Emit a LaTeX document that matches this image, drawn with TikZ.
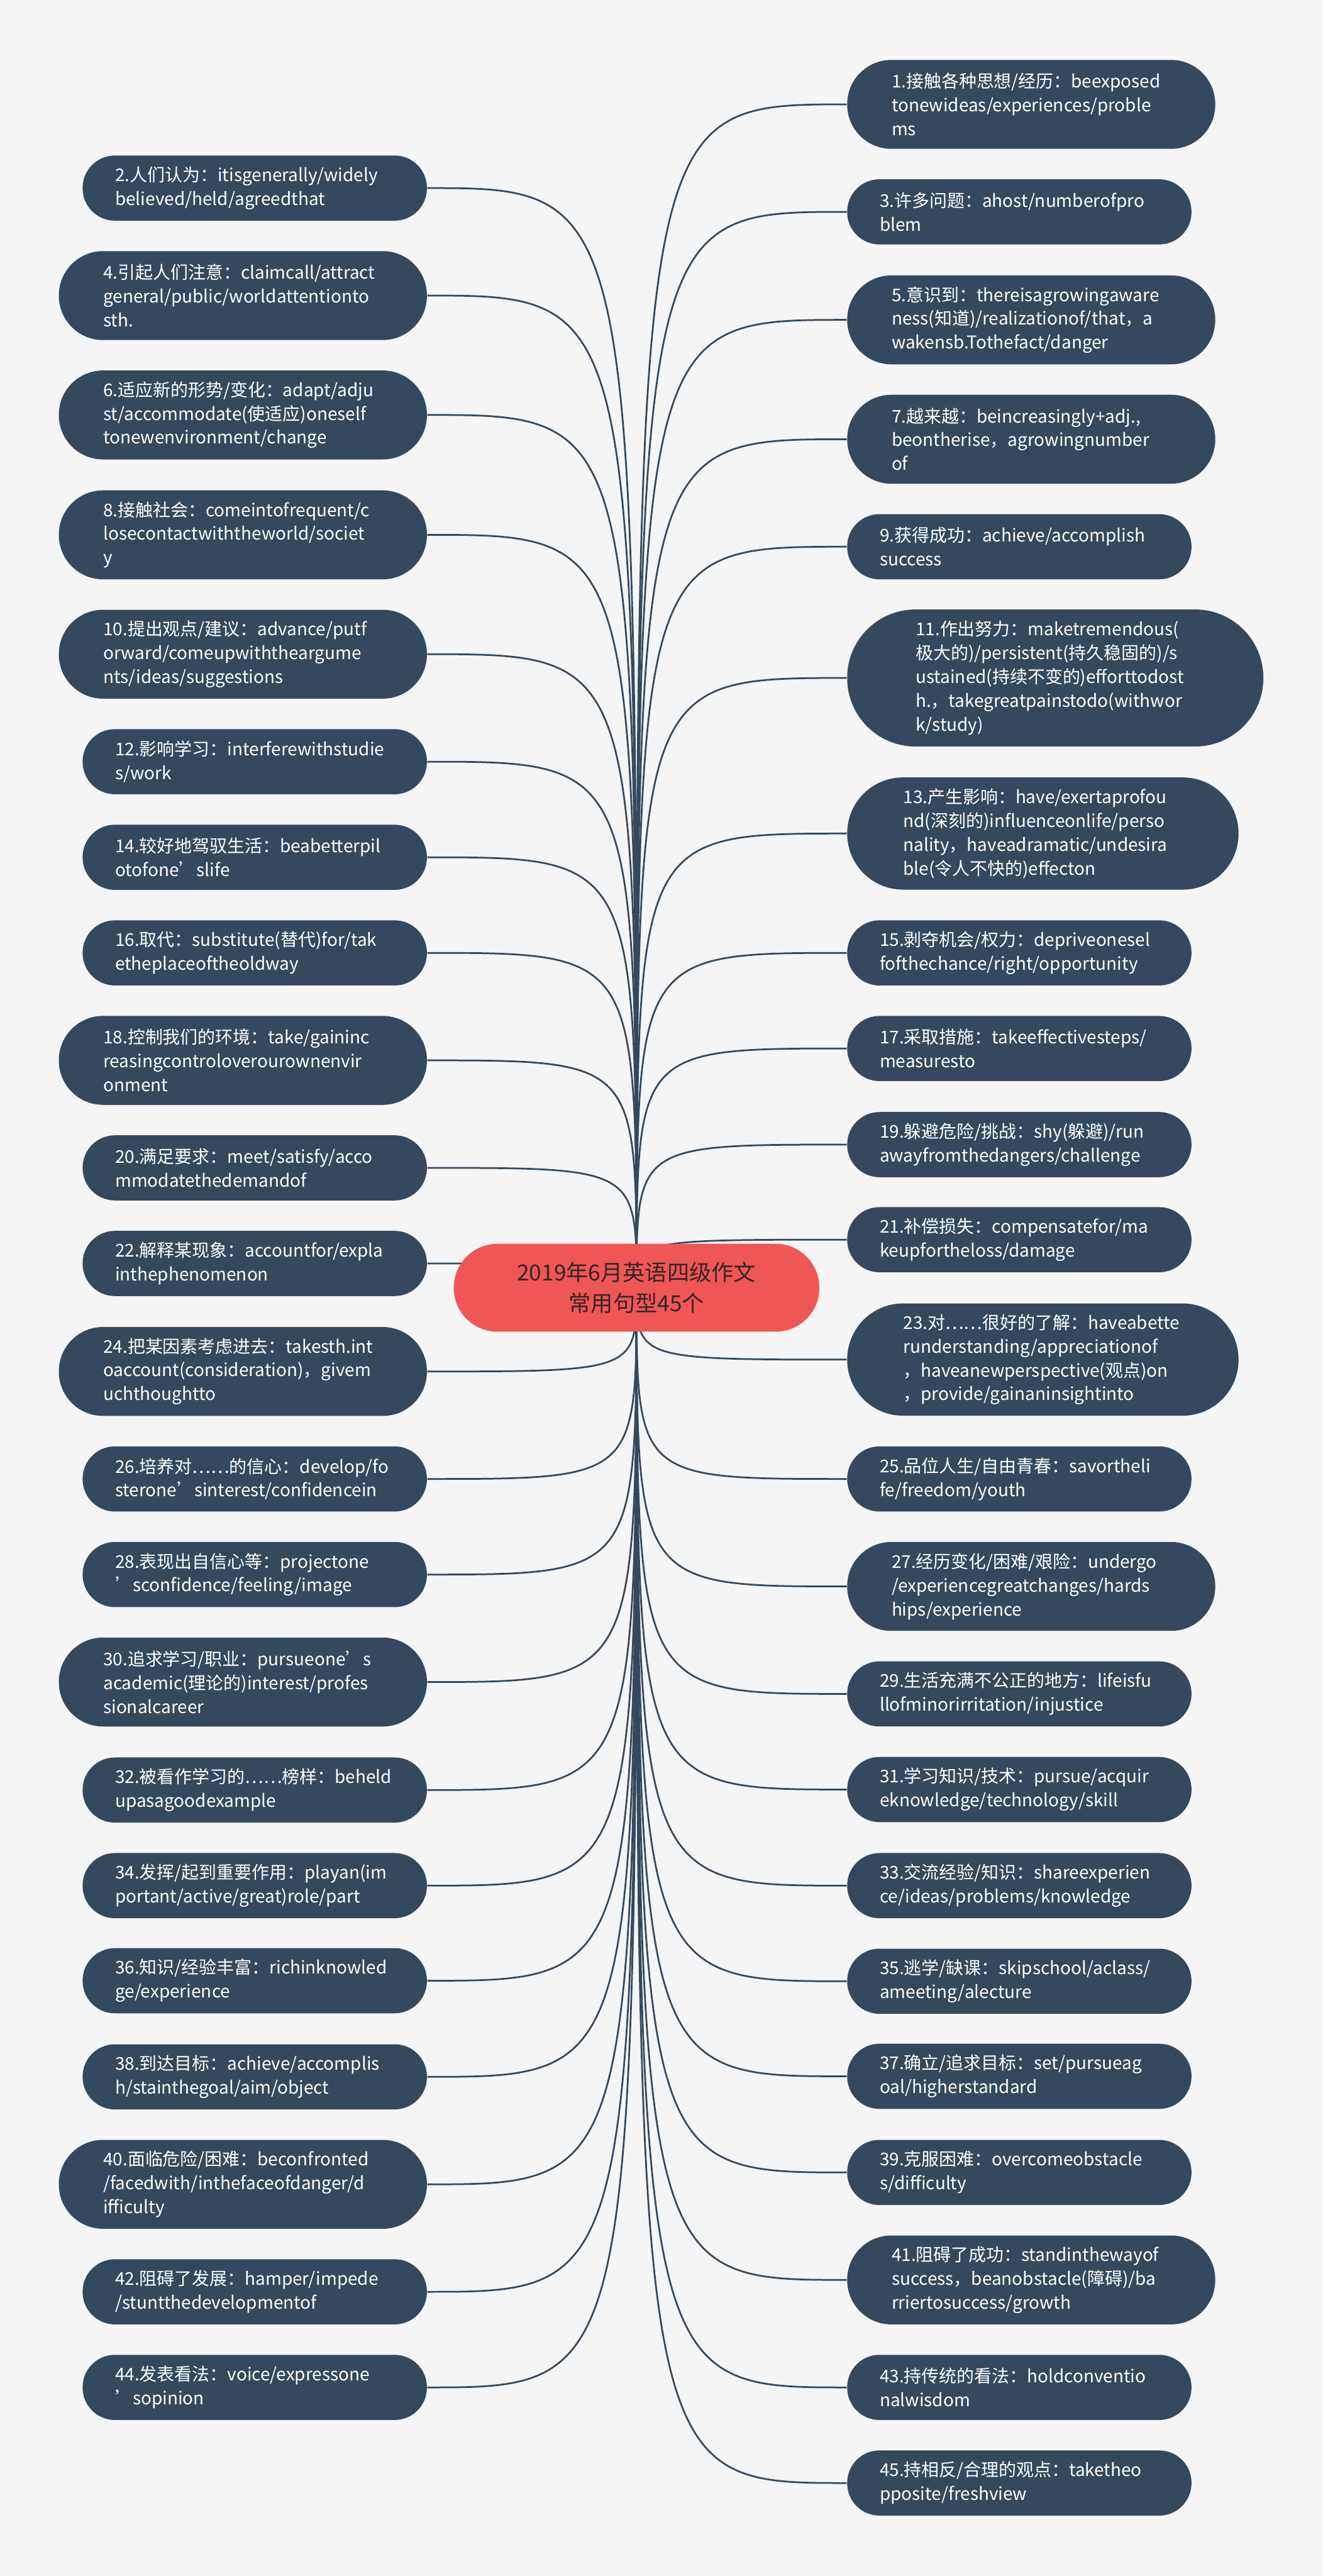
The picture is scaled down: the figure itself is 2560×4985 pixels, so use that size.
\documentclass[tikz,border=0pt]{standalone}
\usepackage{fontspec}
\setmainfont{Noto Sans CJK SC}
\usetikzlibrary{backgrounds}
\definecolor{nb}{HTML}{34495E}
\definecolor{bg}{HTML}{F5F5F5}
\definecolor{rootred}{HTML}{EF5656}
\definecolor{roottext}{HTML}{332626}
\begin{document}
\begin{tikzpicture}[x=0.01cm,y=-0.01cm,
 box/.style={rectangle, fill=nb, text=white, inner xsep=0pt, inner ysep=0pt, text width=5.4cm, align=left, font=\fontsize{9.67pt}{13.09pt}\selectfont},
 b2/.style={box, minimum height=1.26cm, minimum width=6.66cm, rounded corners=0.625cm},
 b3/.style={box, minimum height=1.72cm, minimum width=7.12cm, rounded corners=0.855cm},
 b4/.style={box, minimum height=2.17cm, minimum width=7.57cm, rounded corners=1.08cm},
 b5/.style={box, minimum height=2.65cm, minimum width=8.05cm, rounded corners=1.32cm},
 L/.style={anchor=east}, R/.style={anchor=west},
 rootbox/.style={rectangle, fill=rootred, minimum width=7.07cm, minimum height=1.7cm, rounded corners=0.845cm, align=center, text=roottext, font=\fontsize{12.2pt}{16.8pt}\selectfont},
 link/.style={draw=nb, line width=0.95pt}]
\useasboundingbox (0,0) rectangle (2560,4985);
% root
\node[rootbox] (root) at (1232,2492) {2019年6月英语四级作文\\常用句型45个};
% left column
\node[b2,L] (n2)  at (827,364) {2.人们认为：itisgenerally/widely\\believed/held/agreedthat};
\node[b3,L] (n4)  at (827,572) {4.引起人们注意：claimcall/attract\\general/public/worldattentionto\\sth.};
\node[b3,L] (n6)  at (827,803) {6.适应新的形势/变化：adapt/adju\\st/accommodate(使适应)oneself\\tonewenvironment/change};
\node[b3,L] (n8)  at (827,1035) {8.接触社会：comeintofrequent/c\\losecontactwiththeworld/societ\\y};
\node[b3,L] (n10) at (827,1266) {10.提出观点/建议：advance/putf\\orward/comeupwiththeargume\\nts/ideas/suggestions};
\node[b2,L] (n12) at (827,1474) {12.影响学习：interferewithstudie\\s/work};
\node[b2,L] (n14) at (827,1659) {14.较好地驾驭生活：beabetterpil\\otofone’slife};
\node[b2,L] (n16) at (827,1844) {16.取代：substitute(替代)for/tak\\etheplaceoftheoldway};
\node[b3,L] (n18) at (827,2052) {18.控制我们的环境：take/gaininc\\reasingcontroloverourownenvir\\onment};
\node[b2,L] (n20) at (827,2260) {20.满足要求：meet/satisfy/acco\\mmodatethedemandof};
\node[b2,L] (n22) at (827,2445) {22.解释某现象：accountfor/expla\\inthephenomenon};
\node[b3,L] (n24) at (827,2654) {24.把某因素考虑进去：takesth.int\\oaccount(consideration)，givem\\uchthoughtto};
\node[b2,L] (n26) at (827,2862) {26.培养对……的信心：develop/fo\\sterone’sinterest/confidencein};
\node[b2,L] (n28) at (827,3047) {28.表现出自信心等：projectone\\’sconfidence/feeling/image};
\node[b3,L] (n30) at (827,3255) {30.追求学习/职业：pursueone’s\\academic(理论的)interest/profes\\sionalcareer};
\node[b2,L] (n32) at (827,3464) {32.被看作学习的……榜样：beheld\\upasagoodexample};
\node[b2,L] (n34) at (827,3649) {34.发挥/起到重要作用：playan(im\\portant/active/great)role/part};
\node[b2,L] (n36) at (827,3833) {36.知识/经验丰富：richinknowled\\ge/experience};
\node[b2,L] (n38) at (827,4019) {38.到达目标：achieve/accomplis\\h/stainthegoal/aim/object};
\node[b3,L] (n40) at (827,4227) {40.面临危险/困难：beconfronted\\/facedwith/inthefaceofdanger/d\\ifficulty};
\node[b2,L] (n42) at (827,4435) {42.阻碍了发展：hamper/impede\\/stuntthedevelopmentof};
\node[b2,L] (n44) at (827,4620) {44.发表看法：voice/expressone\\’sopinion};
% right column
\node[b3,R] (n1)  at (1639,202) {1.接触各种思想/经历：beexposed\\tonewideas/experiences/proble\\ms};
\node[b2,R] (n3)  at (1639,410) {3.许多问题：ahost/numberofpro\\blem};
\node[b3,R] (n5)  at (1639,619) {5.意识到：thereisagrowingaware\\ness(知道)/realizationof/that，a\\wakensb.Tothefact/danger};
\node[b3,R] (n7)  at (1639,850) {7.越来越：beincreasingly+adj.,\\beontherise，agrowingnumber\\of};
\node[b2,R] (n9)  at (1639,1058) {9.获得成功：achieve/accomplish\\success};
\node[b5,R] (n11) at (1639,1312) {11.作出努力：maketremendous(\\极大的)/persistent(持久稳固的)/s\\ustained(持续不变的)efforttodost\\h.，takegreatpainstodo(withwor\\k/study)};
\node[b4,R] (n13) at (1639,1613) {13.产生影响：have/exertaprofou\\nd(深刻的)influenceonlife/perso\\nality，haveadramatic/undesira\\ble(令人不快的)effecton};
\node[b2,R] (n15) at (1639,1844) {15.剥夺机会/权力：depriveonesel\\fofthechance/right/opportunity};
\node[b2,R] (n17) at (1639,2029) {17.采取措施：takeeffectivesteps/\\measuresto};
\node[b2,R] (n19) at (1639,2215) {19.躲避危险/挑战：shy(躲避)/run\\awayfromthedangers/challenge};
\node[b2,R] (n21) at (1639,2399) {21.补偿损失：compensatefor/ma\\keupfortheloss/damage};
\node[b4,R] (n23) at (1639,2631) {23.对……很好的了解：haveabette\\runderstanding/appreciationof\\，haveanewperspective(观点)on\\，provide/gainaninsightinto};
\node[b2,R] (n25) at (1639,2862) {25.品位人生/自由青春：savortheli\\fe/freedom/youth};
\node[b3,R] (n27) at (1639,3070) {27.经历变化/困难/艰险：undergo\\/experiencegreatchanges/hards\\hips/experience};
\node[b2,R] (n29) at (1639,3278) {29.生活充满不公正的地方：lifeisfu\\llofminorirritation/injustice};
\node[b2,R] (n31) at (1639,3463) {31.学习知识/技术：pursue/acquir\\eknowledge/technology/skill};
\node[b2,R] (n33) at (1639,3649) {33.交流经验/知识：shareexperien\\ce/ideas/problems/knowledge};
\node[b2,R] (n35) at (1639,3834) {35.逃学/缺课：skipschool/aclass/\\ameeting/alecture};
\node[b2,R] (n37) at (1639,4018) {37.确立/追求目标：set/pursueag\\oal/higherstandard};
\node[b2,R] (n39) at (1639,4204) {39.克服困难：overcomeobstacle\\s/difficulty};
\node[b3,R] (n41) at (1639,4412) {41.阻碍了成功：standinthewayof\\success，beanobstacle(障碍)/ba\\rriertosuccess/growth};
\node[b2,R] (n43) at (1639,4620) {43.持传统的看法：holdconventio\\nalwisdom};
\node[b2,R] (n45) at (1639,4805) {45.持相反/合理的观点：taketheo\\pposite/freshview};
\begin{scope}[on background layer]
\fill[bg] (0,0) rectangle (2560,4985);
\foreach \k in {2,4,...,44} {\draw[link] (n\k.east) .. controls (root.center |- n\k.east) .. (root.center);}
\foreach \k in {1,3,...,45} {\draw[link] (n\k.west) .. controls (root.center |- n\k.west) .. (root.center);}
\end{scope}
\end{tikzpicture}
\end{document}
